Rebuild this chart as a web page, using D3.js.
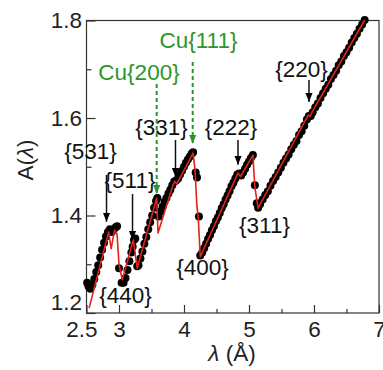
<!DOCTYPE html>
<html><head><meta charset="utf-8">
<script src="https://cdn.jsdelivr.net/npm/d3@7"></script>
<style>
html,body{margin:0;padding:0;background:#fff;}
svg{display:block;font-family:"Liberation Sans",Arial,sans-serif;}
</style></head>
<body><svg id="c" width="383" height="370"></svg>
<script>
// measured data (black markers)
const lambdaMeas = [2.51,2.53,2.56,2.59,2.62,2.65,2.68,2.71,2.74,2.77,2.80,2.83,2.86,2.89,2.92,2.95,2.97,
 3.00,3.04,3.07,3.10,3.13,3.16,3.19,3.21,3.23,3.25,3.28,
 3.30,3.33,3.36,3.39,3.42,3.45,3.48,3.51,3.54,3.57,3.59,
 3.61,3.64,3.67,3.70,3.73,3.76,3.79,3.82,3.85,3.88,3.91,3.94,3.97,4.00,4.03,4.06,4.09,4.12,4.14,
 4.18,4.20,4.23,4.25,
 4.28,4.31,4.34,4.37,4.40,4.43,4.46,4.49,4.52,4.55,4.58,4.61,4.64,4.67,4.70,4.73,4.76,4.79,4.82,4.85,4.88,4.91,4.94,4.97,5.00,5.03,5.06,
 5.09,5.12,5.14,
 5.17,5.21,5.25,5.29,5.33,5.37,5.41,5.45,5.49,5.53,5.57,5.61,5.65,5.69,5.73,5.77,5.81,5.85,5.89,5.92,5.95,5.98,6.02,6.06,6.10,6.14,6.18,6.22,6.26,6.30,6.34,6.38,6.42,6.46,6.50,6.54,6.58,6.62,6.66,6.70,6.74,6.78];
const aMeas = [1.262,1.255,1.250,1.258,1.270,1.284,1.298,1.314,1.330,1.344,1.357,1.366,1.372,1.366,1.372,1.376,1.378,
 1.292,1.262,1.262,1.272,1.288,1.306,1.324,1.336,1.350,1.353,1.296,
 1.298,1.312,1.326,1.342,1.356,1.372,1.386,1.400,1.416,1.430,1.436,
 1.398,1.408,1.418,1.428,1.436,1.445,1.453,1.462,1.470,1.472,1.476,1.484,1.492,1.500,1.508,1.515,1.521,1.527,1.530,
 1.488,1.478,1.398,1.318,
 1.324,1.333,1.342,1.352,1.360,1.370,1.378,1.388,1.396,1.405,1.415,1.423,1.433,1.441,1.450,1.460,1.467,1.476,1.484,1.486,1.482,1.488,1.496,1.504,1.511,1.518,1.524,
 1.462,1.425,1.416,
 1.423,1.433,1.442,1.450,1.461,1.471,1.479,1.488,1.498,1.508,1.517,1.525,1.536,1.545,1.553,1.565,1.573,1.584,1.597,1.604,1.604,1.612,1.622,1.630,1.641,1.651,1.660,1.668,1.680,1.688,1.697,1.708,1.716,1.727,1.735,1.744,1.755,1.764,1.773,1.783,1.792,1.801];
// fitted curve (red line)
const lambdaFit = [2.54,2.84,2.88,2.93,2.97,3.00,3.05,3.22,3.28,3.58,3.60,3.83,3.86,3.89,4.14,4.17,4.19,4.20,4.22,4.25,4.83,4.87,5.06,5.09,5.14,5.88,5.91,5.94,5.97,6.78];
const aFit =      [1.210,1.366,1.332,1.370,1.362,1.300,1.268,1.350,1.292,1.436,1.364,1.462,1.470,1.465,1.528,1.493,1.440,1.417,1.395,1.315,1.487,1.480,1.524,1.458,1.415,1.598,1.606,1.603,1.612,1.801];
// axis ticks
const xTicks = [2.5,3,4,5,6,7];
const xMinor = [3.5,4.5,5.5,6.5];
const yTicks = [1.2,1.4,1.6,1.8];
const yMinor = [1.3,1.5,1.7];
// annotations: label, text anchor point (λ, A), arrow λ, arrow from A, arrow to A
const annLabels = ["{531}","{511}","{440}","{331}","{222}","{400}","{311}","{220}","Cu{111}","Cu{200}"];
const annTextL  = [2.562,3.169,3.100,3.654,4.723,4.285,5.238,5.808,4.223,3.308];
const annTextA  = [1.516,1.456,1.2205,1.565,1.565,1.278,1.364,1.684,1.744,1.678];
const annArrowL = [2.808,3.208,null,3.869,4.831,null,null,5.923,4.134,3.580];
const annArrowA0= [1.483,1.444,null,1.555,1.555,null,null,1.678,1.715,1.670];
const annArrowA1= [1.387,1.350,null,1.479,1.504,null,null,1.633,1.547,1.444];
const annGreen  = [false,false,false,false,false,false,false,false,true,true];

const svg = d3.select("#c");
const x = d3.scaleLinear().domain([2.5,7]).range([86.5,379]);
const y = d3.scaleLinear().domain([1.2,1.8]).range([313,20.5]);
const GREEN = "#2c962c", RED = "#e2231a";

const defs = svg.append("defs");
function marker(id,col){
  defs.append("marker").attr("id",id).attr("viewBox","0 0 10 10").attr("refX",10).attr("refY",5)
    .attr("markerWidth",9).attr("markerHeight",9).attr("markerUnits","userSpaceOnUse").attr("orient","auto")
    .append("path").attr("d","M0,1 L10,5 L0,9 Z").attr("fill",col);
}
marker("ab","#000"); marker("ag",GREEN);

// frame
svg.append("rect").attr("x",x(2.5)).attr("y",y(1.8)).attr("width",x(7)-x(2.5)).attr("height",y(1.2)-y(1.8))
  .attr("fill","none").attr("stroke","#333").attr("stroke-width",1.2);

const font = 22.5;
const gx = svg.append("g").attr("transform",`translate(0,${y(1.2)})`)
  .call(d3.axisBottom(x).tickValues(xTicks).tickSizeInner(-8).tickSizeOuter(0).tickPadding(8).tickFormat(d3.format("")));
gx.append("g").call(d3.axisBottom(x).tickValues(xMinor).tickSizeInner(-4).tickSizeOuter(0).tickFormat(""));
const gy = svg.append("g").attr("transform",`translate(${x(2.5)},0)`)
  .call(d3.axisLeft(y).tickValues(yTicks).tickSizeInner(-9).tickSizeOuter(0).tickPadding(4.5).tickFormat(d3.format(".1f")));
gy.append("g").call(d3.axisLeft(y).tickValues(yMinor).tickSizeInner(-5).tickSizeOuter(0).tickFormat(""));
svg.selectAll(".domain").remove();
svg.selectAll(".tick line").attr("stroke","#333").attr("stroke-width",1.2);
svg.selectAll(".tick text").attr("font-size",font).attr("fill","#222").attr("font-family","Liberation Sans, Arial, sans-serif");
gx.selectAll(".tick text").filter(d=>d===2.5).attr("dx",-5);
gy.selectAll(".tick text").filter(d=>d===1.2).attr("dy","-0.15em");

// measured points
const pts = lambdaMeas.map((l,i)=>[l,aMeas[i]]);
svg.append("g").selectAll("circle").data(pts).join("circle")
  .attr("cx",d=>x(d[0])).attr("cy",d=>y(d[1])).attr("r",4).attr("fill","#000");
// fit line
const fit = lambdaFit.map((l,i)=>[l,aFit[i]]);
svg.append("path").datum(fit).attr("d",d3.line().x(d=>x(d[0])).y(d=>y(d[1])))
  .attr("fill","none").attr("stroke",RED).attr("stroke-width",1.6).attr("stroke-linejoin","round");

// annotations
const ga = svg.append("g");
annLabels.forEach((lab,i)=>{
  const col = annGreen[i]?GREEN:"#111";
  ga.append("text").attr("x",x(annTextL[i])).attr("y",y(annTextA[i])).attr("text-anchor","middle")
    .attr("font-size",font).attr("fill",col).text(lab);
  if(annArrowL[i]!==null){
    ga.append("line").attr("x1",x(annArrowL[i])).attr("x2",x(annArrowL[i]))
      .attr("y1",y(annArrowA0[i])).attr("y2",y(annArrowA1[i]))
      .attr("stroke",col).attr("stroke-width",annGreen[i]?2:1.5)
      .attr("stroke-dasharray",annGreen[i]?"4,3":null)
      .attr("marker-end",`url(#${annGreen[i]?"ag":"ab"})`);
  }
});

// axis titles
const ty = svg.append("text").attr("transform",`translate(33,160) rotate(-90)`).attr("text-anchor","middle")
  .attr("font-size",font).attr("fill","#222");
ty.append("tspan").text("A(");
ty.append("tspan").attr("font-style","italic").text("λ");
ty.append("tspan").text(")");
const tx = svg.append("text").attr("x",232).attr("y",361).attr("text-anchor","middle").attr("font-size",font).attr("fill","#222");
tx.append("tspan").attr("font-style","italic").text("λ");
tx.append("tspan").text(" (Å)");
</script></body></html>
